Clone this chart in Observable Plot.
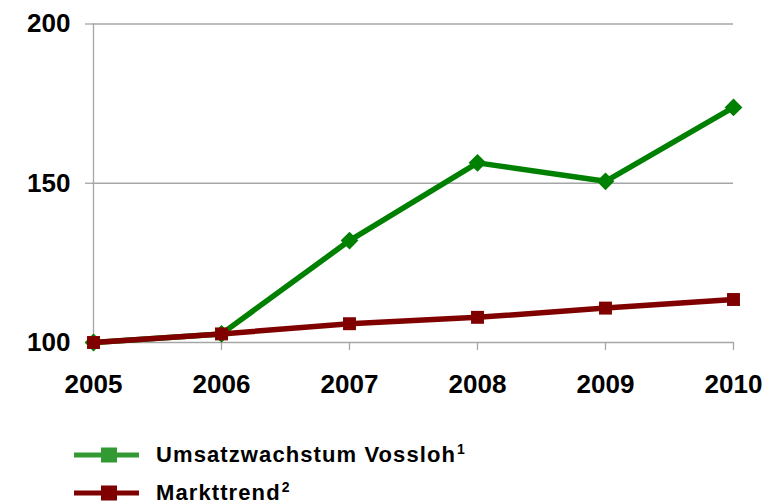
<!DOCTYPE html>
<html>
<head>
<meta charset="utf-8">
<script src="https://cdn.jsdelivr.net/npm/d3@7"></script>
<script src="https://cdn.jsdelivr.net/npm/@observablehq/plot@0.6"></script>
<style>
  body { margin: 0; background: #fff; font-family: "Liberation Sans", Arial, sans-serif; overflow: hidden; }
  #legend { padding-top: 16px; }
  .row { display: flex; align-items: center; height: 38px; padding-left: 74px; font-weight: bold; font-size: 22px; line-height: 20px; letter-spacing: 1.1px; color: #000; white-space: nowrap; }
  .row svg { margin-right: 16px; flex: none; }
  .row sup { font-size: 14px; line-height: 14px; vertical-align: 0; position: relative; top: -8px; letter-spacing: 0; margin-left: 1px; }
</style>
</head>
<body>
<div id="chart"></div>
<div id="legend"></div>
<script>
const years = ["2005", "2006", "2007", "2008", "2009", "2010"];
const vossloh = [100, 102.7, 132.0, 156.4, 150.6, 173.8];
const markt = [100, 102.7, 105.9, 107.9, 110.8, 113.5];
const yTicks = [100, 150, 200];
const seriesNames = ["Umsatzwachstum Vossloh", "Markttrend"];
const seriesSup = ["1", "2"];

const greenData = years.map((y, i) => ({year: y, value: vossloh[i]}));
const redData = years.map((y, i) => ({year: y, value: markt[i]}));

const gray = "#a6a6a6";
const green = "#008000";
const red = "#800000";

const chart = Plot.plot({
  width: 769,
  height: 420,
  marginLeft: 92,
  marginRight: 36,
  marginTop: 23.5,
  marginBottom: 78,
  style: {fontFamily: "'Liberation Sans', Arial, sans-serif", fontSize: "26px", fontWeight: "bold", color: "#000", background: "#fff"},
  x: {type: "point", domain: years, padding: 0},
  y: {domain: [100, 200]},
  marks: [
    Plot.ruleY(yTicks.filter(d => d > 100), {stroke: gray, strokeWidth: 1.3}),
    Plot.ruleY([100], {stroke: gray, strokeWidth: 1.3}),
    Plot.ruleX(["2005"], {stroke: gray, strokeWidth: 1.3}),
    Plot.axisY(yTicks, {tickSize: 7, tickPadding: 15, stroke: gray, fill: "#000", fontSize: 26, fontWeight: "bold", label: null, strokeWidth: 1.3}),
    Plot.axisX(years, {tickSize: 8, tickPadding: 24, stroke: gray, fill: "#000", fontSize: 26, fontWeight: "bold", label: null, strokeWidth: 1.3}),
    Plot.line(greenData, {x: "year", y: "value", stroke: green, strokeWidth: 5.5}),
    Plot.dot(greenData, {x: "year", y: "value", symbol: "diamond2", r: 8, fill: green, stroke: "none"}),
    Plot.line(redData, {x: "year", y: "value", stroke: red, strokeWidth: 5.5}),
    Plot.dot(redData, {x: "year", y: "value", symbol: "square", r: 7.3, fill: red, stroke: "none"})
  ]
});
document.getElementById("chart").appendChild(chart);

const legendColors = ["#339933", "#7f0000"];
const legend = document.getElementById("legend");
seriesNames.forEach((name, i) => {
  const row = document.createElement("div");
  row.className = "row";
  row.innerHTML = `<svg width="66" height="20"><line x1="0" x2="65" y1="10" y2="10" stroke="${legendColors[i]}" stroke-width="5"/><rect x="27" y="2.5" width="16" height="15" fill="${legendColors[i]}"/></svg><span>${name}<sup>${seriesSup[i]}</sup></span>`;
  legend.appendChild(row);
});
</script>
</body>
</html>
